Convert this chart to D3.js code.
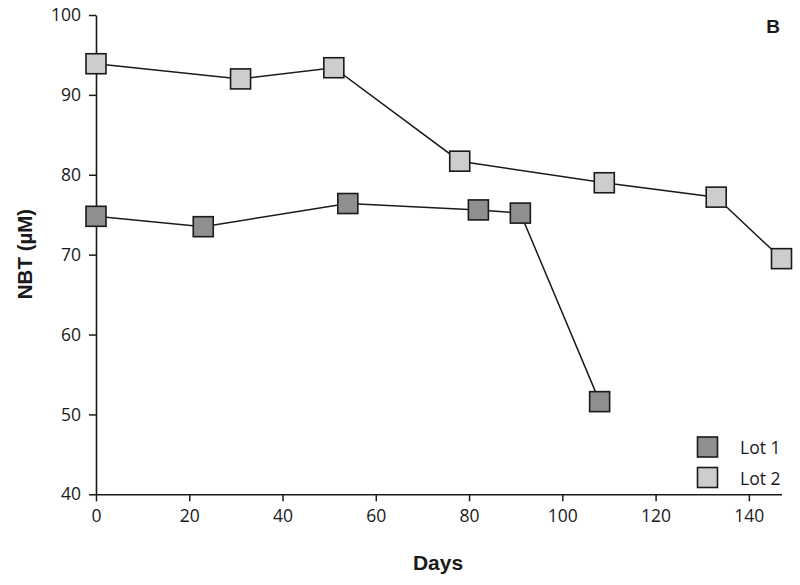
<!DOCTYPE html>
<html><head><meta charset="utf-8">
<script src="https://cdn.jsdelivr.net/npm/d3@7"></script>
<style>body{margin:0;background:#fff}</style>
</head><body>
<svg id="c" width="800" height="585"></svg>
<script>
const lot1Days = [0, 23, 54, 82, 91, 108];
const lot1Values = [74.8, 73.5, 76.4, 75.6, 75.2, 51.6];
const lot2Days = [0, 31, 51, 78, 109, 133, 147];
const lot2Values = [93.9, 92.0, 93.4, 81.7, 79.0, 77.2, 69.5];
const xTicks = [0, 20, 40, 60, 80, 100, 120, 140];
const yTicks = [40, 50, 60, 70, 80, 90, 100];
const seriesNames = ["Lot 1", "Lot 2"];

const svg = d3.select("#c");
const x = d3.scaleLinear().domain([0, 147]).range([96, 781.5]);
const y = d3.scaleLinear().domain([40, 100]).range([494.3, 15]);
const font = "'Open Sans', 'DejaVu Sans', sans-serif";
const ink = "#1a1a1a";

const xa = svg.append("g").attr("transform", "translate(0,494.3)")
  .call(d3.axisBottom(x).tickValues(xTicks).tickSize(7).tickPadding(8).tickSizeOuter(0));
const ya = svg.append("g").attr("transform", "translate(96,0)")
  .call(d3.axisLeft(y).tickValues(yTicks).tickSize(7).tickPadding(8).tickSizeOuter(0));
[xa, ya].forEach(a => {
  a.select(".domain").attr("stroke", ink).attr("stroke-width", 1.6);
  a.selectAll(".tick line").attr("stroke", ink).attr("stroke-width", 1.5);
  a.selectAll(".tick text").attr("fill", ink).style("font-family", font).style("font-size", "17.5px");
});

const series = [
  {name: seriesNames[0], days: lot1Days, vals: lot1Values, fill: "#8f8f8f"},
  {name: seriesNames[1], days: lot2Days, vals: lot2Values, fill: "#cdcdcd"}
];
const line = d3.line().x(d => x(d[0])).y(d => y(d[1]));
const S = 20;
series.forEach(s => {
  const pts = s.days.map((d, i) => [d, s.vals[i]]);
  svg.append("path").datum(pts).attr("d", line).attr("fill", "none")
    .attr("stroke", ink).attr("stroke-width", 1.5);
  svg.selectAll(null).data(pts).enter().append("rect")
    .attr("x", d => x(d[0]) - S/2).attr("y", d => y(d[1]) - S/2)
    .attr("width", S).attr("height", S)
    .attr("fill", s.fill).attr("stroke", ink).attr("stroke-width", 1.6);
});

// legend
series.forEach((s, i) => {
  const ly = 437 + i * 30.5;
  svg.append("rect").attr("x", 697.5).attr("y", ly).attr("width", S).attr("height", S)
    .attr("fill", s.fill).attr("stroke", ink).attr("stroke-width", 1.6);
  svg.append("text").attr("x", 740).attr("y", ly + 17).text(s.name)
    .attr("fill", ink).style("font-family", font).style("font-size", "17.5px");
});

svg.append("text").attr("x", 438).attr("y", 570).attr("text-anchor", "middle")
  .text("Days").attr("fill", ink)
  .style("font-family", "'Liberation Sans', Arial, sans-serif").style("font-weight", "bold").style("font-size", "21px");
svg.append("text").attr("transform", "translate(32,254) rotate(-90)").attr("text-anchor", "middle")
  .text("NBT (µM)").attr("fill", ink)
  .style("font-family", "'Liberation Sans', Arial, sans-serif").style("font-weight", "bold").style("font-size", "20.5px");
svg.append("text").attr("x", 773).attr("y", 33).attr("text-anchor", "middle")
  .text("B").attr("fill", ink)
  .style("font-family", "'Liberation Sans', Arial, sans-serif").style("font-weight", "bold").style("font-size", "19px");
</script>
</body></html>
